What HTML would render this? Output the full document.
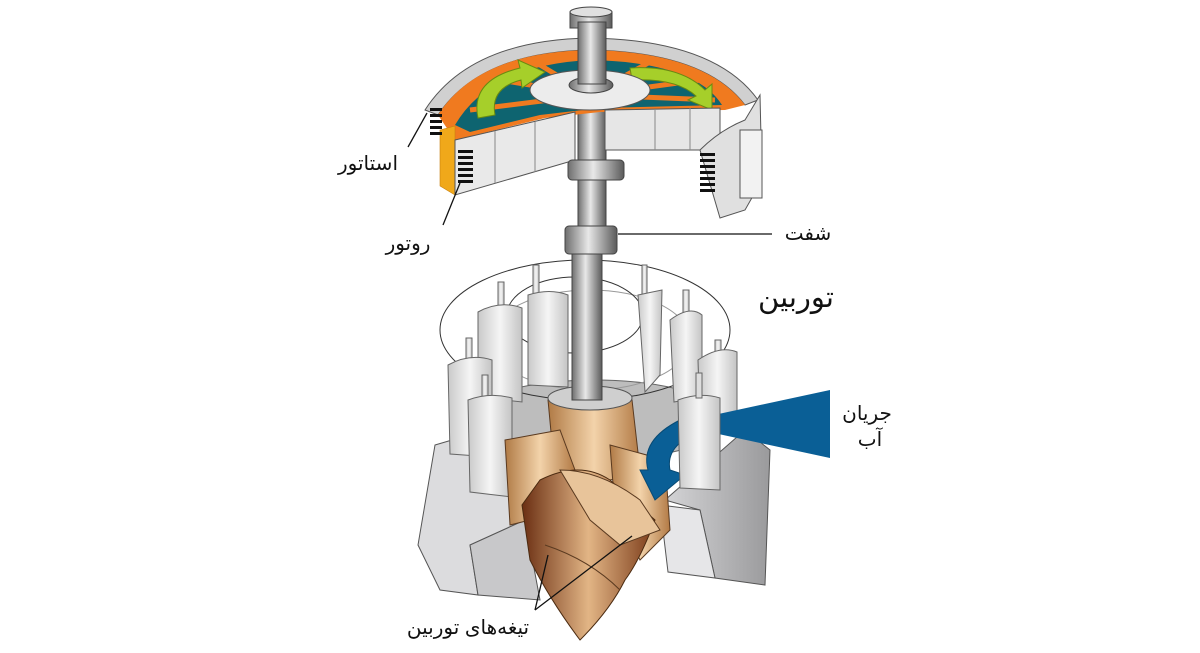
<!DOCTYPE html>
<html><head><meta charset="utf-8"><style>
html,body{margin:0;padding:0;background:#fff;width:1200px;height:653px;overflow:hidden}
svg{display:block}
text{font-family:"Liberation Sans","Noto Sans CJK SC","DejaVu Sans",sans-serif;fill:#111}
</style></head><body>
<svg width="1200" height="653" viewBox="0 0 1200 653" xmlns="http://www.w3.org/2000/svg">
<defs>
<linearGradient id="sh" x1="0" x2="1"><stop offset="0" stop-color="#6e6e6e"/><stop offset=".45" stop-color="#e8e8e8"/><stop offset="1" stop-color="#5a5a5a"/></linearGradient>
<linearGradient id="br" x1="0" x2="1"><stop offset="0" stop-color="#b07a45"/><stop offset=".5" stop-color="#f3d3aa"/><stop offset="1" stop-color="#b27a45"/></linearGradient>
<linearGradient id="brd" x1="0" x2="1"><stop offset="0" stop-color="#6a2e12"/><stop offset=".5" stop-color="#e2b585"/><stop offset="1" stop-color="#7a3a18"/></linearGradient>
<linearGradient id="gp" x1="0" x2="1"><stop offset="0" stop-color="#c9c9c9"/><stop offset=".5" stop-color="#f5f5f5"/><stop offset="1" stop-color="#c4c4c4"/></linearGradient>
<linearGradient id="base" x1="0" x2="1"><stop offset="0" stop-color="#d4d4d6"/><stop offset="1" stop-color="#9a9a9c"/></linearGradient>
</defs>

<path d="M435 445 L520 420 L525 520 L470 545 L478 595 L440 590 L418 545 Z" fill="#dcdcde" stroke="#555" stroke-width="1"/>
<path d="M470 545 L525 520 L540 600 L478 595 Z" fill="#c8c8ca" stroke="#555"/>
<path d="M665 500 L745 430 L770 450 L765 585 L715 578 L700 510 Z" fill="url(#base)" stroke="#555"/>
<path d="M660 505 L700 510 L715 578 L668 572 Z" fill="#e6e6e8" stroke="#555"/>
<ellipse cx="595" cy="420" rx="130" ry="40" fill="#bdbdbd" stroke="#666"/>

<ellipse cx="585" cy="330" rx="145" ry="70" fill="none" stroke="#333" stroke-width="1"/>
<ellipse cx="590" cy="340" rx="100" ry="50" fill="none" stroke="#999" stroke-width="1"/>
<ellipse cx="575" cy="315" rx="68" ry="38" fill="none" stroke="#333" stroke-width="1"/>

<g stroke="#666" stroke-width="1" fill="url(#gp)">
<rect x="498" y="282" width="6" height="30"/><path d="M478 312 Q500 300 522 308 L522 402 L478 397 Z"/>
<rect x="533" y="265" width="6" height="30"/><path d="M528 295 Q550 288 568 295 L568 387 L528 385 Z"/>
<rect x="466" y="338" width="6" height="25"/><path d="M448 365 Q470 353 492 360 L492 457 L450 454 Z"/>
<rect x="482" y="375" width="6" height="25"/><path d="M468 400 Q490 392 512 398 L512 497 L470 492 Z"/>
<rect x="642" y="265" width="5" height="30"/><path d="M638 295 L662 290 L660 375 L645 392 Z"/>
<rect x="683" y="290" width="6" height="25"/><path d="M670 320 Q690 305 702 315 L702 397 L674 402 Z"/>
<rect x="715" y="340" width="6" height="25"/><path d="M698 360 Q720 345 737 352 L737 422 L700 424 Z"/>
</g>

<path d="M548 400 Q590 385 632 400 L640 470 Q600 490 555 475 Z" fill="url(#br)" stroke="#5a3a20"/>
<ellipse cx="590" cy="398" rx="42" ry="12" fill="#cfcfcf" stroke="#555"/>
<path d="M505 440 L560 430 L575 470 L530 520 L510 525 Z" fill="url(#br)" stroke="#5a3a20"/>
<path d="M610 445 L665 460 L670 530 L640 560 L615 510 Z" fill="url(#br)" stroke="#5a3a20"/>
<path d="M540 480 Q580 460 610 480 L655 520 Q640 560 625 580 Q610 610 580 640 Q550 600 530 560 L522 505 Z" fill="url(#brd)" stroke="#4a2a10"/>
<path d="M560 470 Q600 470 640 500 L660 530 L620 545 L590 520 Z" fill="#e8c49a" stroke="#5a3a20"/>
<path d="M545 545 Q590 560 620 590" fill="none" stroke="#5a3a20"/>

<rect x="572" y="250" width="30" height="150" fill="url(#sh)" stroke="#444"/>

<path d="M830 390 L830 458 L700 430 L700 418 Z" fill="#0a5f96"/>
<path d="M680 420 Q640 440 648 470 L640 470 L655 500 L685 475 L670 470 Q665 445 700 432 Z" fill="#0a5f96" stroke="#084a74"/>
<path d="M678 400 Q700 392 720 398 L720 490 L680 488 Z" fill="url(#gp)" stroke="#666"/>
<rect x="696" y="373" width="6" height="25" fill="#ddd" stroke="#666"/>

<rect x="578" y="22" width="28" height="230" fill="url(#sh)" stroke="#444"/>
<rect x="565" y="226" width="52" height="28" rx="4" fill="url(#sh)" stroke="#444"/>
<rect x="570" y="12" width="42" height="16" fill="url(#sh)" stroke="#444"/>
<ellipse cx="591" cy="12" rx="21" ry="5" fill="#e0e0e0" stroke="#444"/>

<path d="M425 110 Q470 40 590 38 Q715 40 758 100 L745 105 Q705 52 590 50 Q480 52 438 115 Z" fill="#d0d0d0" stroke="#555"/>
<path d="M438 115 Q478 52 590 50 Q705 52 745 105 L725 110 L600 112 L545 118 L455 140 Z" fill="#f07a1f"/>
<path d="M455 125 Q490 65 590 60 Q695 62 722 105 L600 108 L540 115 L470 132 Z" fill="#0e6470"/>
<g stroke="#f07a1f" stroke-width="5">
<line x1="590" y1="95" x2="470" y2="110"/><line x1="590" y1="95" x2="500" y2="80"/><line x1="590" y1="95" x2="540" y2="65"/>
<line x1="590" y1="95" x2="650" y2="62"/><line x1="590" y1="95" x2="700" y2="80"/><line x1="590" y1="95" x2="715" y2="100"/>
</g>
<path d="M478 118 Q470 80 520 68 L518 60 L545 72 L522 88 L521 80 Q490 88 495 115 Z" fill="#a6cf2a" stroke="#6a8a10"/>
<path d="M630 68 Q680 65 705 90 L712 84 L712 110 L688 100 L696 96 Q676 78 632 80 Z" fill="#a6cf2a" stroke="#6a8a10"/>
<ellipse cx="590" cy="90" rx="60" ry="20" fill="#ececec" stroke="#555"/>
<ellipse cx="591" cy="85" rx="22" ry="8" fill="url(#sh)" stroke="#444"/>
<rect x="578" y="22" width="28" height="62" fill="url(#sh)" stroke="#444"/>
<path d="M440 130 L455 126 L455 195 L440 186 Z" fill="#f0a81a" stroke="#c88010" stroke-width=".6"/>
<path d="M455 140 L575 112 L575 160 L455 195 Z" fill="#e9e9e9" stroke="#555"/>
<line x1="495" y1="131" x2="495" y2="183" stroke="#888"/><line x1="535" y1="122" x2="535" y2="172" stroke="#888"/>
<path d="M605 110 L720 108 L720 150 L605 150 Z" fill="#e6e6e6" stroke="#555"/>
<line x1="655" y1="109" x2="655" y2="150" stroke="#888"/><line x1="690" y1="108" x2="690" y2="150" stroke="#888"/>
<path d="M700 150 Q720 130 745 120 L760 95 L762 180 L745 210 L720 218 Z" fill="#e0e0e0" stroke="#555"/>
<rect x="740" y="130" width="22" height="68" fill="#f2f2f2" stroke="#555"/>
<g fill="#111">
<rect x="430" y="108" width="12" height="3"/><rect x="430" y="114" width="12" height="3"/><rect x="430" y="120" width="12" height="3"/><rect x="430" y="126" width="12" height="3"/><rect x="430" y="132" width="12" height="3"/>
<rect x="458" y="150" width="15" height="3"/><rect x="458" y="156" width="15" height="3"/><rect x="458" y="162" width="15" height="3"/><rect x="458" y="168" width="15" height="3"/><rect x="458" y="174" width="15" height="3"/><rect x="458" y="180" width="15" height="3"/>
<rect x="700" y="153" width="15" height="3"/><rect x="700" y="159" width="15" height="3"/><rect x="700" y="165" width="15" height="3"/><rect x="700" y="171" width="15" height="3"/><rect x="700" y="177" width="15" height="3"/><rect x="700" y="183" width="15" height="3"/><rect x="700" y="189" width="15" height="3"/>
</g>
<rect x="568" y="160" width="56" height="20" rx="4" fill="url(#sh)" stroke="#444"/>

<g stroke="#111" stroke-width="1.3">
<line x1="408" y1="147" x2="427" y2="113"/>
<line x1="443" y1="225" x2="460" y2="183"/>
<line x1="618" y1="234" x2="772" y2="234"/>
<line x1="535" y1="610" x2="548" y2="555"/>
<line x1="535" y1="610" x2="632" y2="536"/>
</g>

<g font-size="20" text-anchor="middle">
<text x="368" y="170">استاتور</text>
<text x="408" y="250">روتور</text>
<text x="808" y="240">شفت</text>
<text x="796" y="307" font-size="29">توربین</text>
<text x="867" y="420">جریان</text>
<text x="870" y="446">آب</text>
<text x="468" y="634">تیغه‌های توربین</text>
</g>
</svg>
</body></html>
